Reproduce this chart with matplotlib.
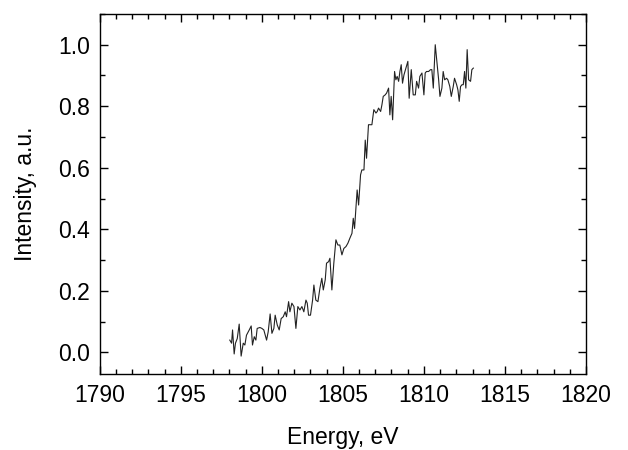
import numpy as np
import matplotlib
matplotlib.use('Agg')
from matplotlib import pyplot as plt
from matplotlib.ticker import MultipleLocator


energy = [1798.02, 1798.13, 1798.19, 1798.29, 1798.37, 1798.48, 1798.60, 1798.72, 1798.85, 1798.95,
          1799.05, 1799.22, 1799.34, 1799.42, 1799.53, 1799.63, 1799.71, 1799.88, 1800.00, 1800.12,
          1800.29, 1800.39, 1800.51, 1800.62, 1800.74, 1800.82, 1800.95, 1801.07, 1801.19, 1801.32,
          1801.44, 1801.52, 1801.65, 1801.73, 1801.85, 1801.98, 1802.10, 1802.22, 1802.35, 1802.47,
          1802.59, 1802.72, 1802.80, 1802.88, 1803.00, 1803.13, 1803.21, 1803.33, 1803.46, 1803.58,
          1803.70, 1803.79, 1803.91, 1803.99, 1804.12, 1804.20, 1804.32, 1804.44, 1804.57, 1804.69,
          1804.81, 1804.94, 1805.06, 1805.19, 1805.31, 1805.43, 1805.56, 1805.64, 1805.72, 1805.80,
          1805.88, 1805.97, 1806.09, 1806.17, 1806.30, 1806.38, 1806.46, 1806.58, 1806.71, 1806.79,
          1806.91, 1807.04, 1807.12, 1807.20, 1807.33, 1807.41, 1807.49, 1807.61, 1807.70, 1807.82,
          1807.90, 1807.98, 1808.07, 1808.19, 1808.27, 1808.35, 1808.44, 1808.52, 1808.60, 1808.68,
          1808.77, 1808.89, 1809.01, 1809.09, 1809.22, 1809.34, 1809.47, 1809.55, 1809.67, 1809.75,
          1809.88, 1810.00, 1810.08, 1810.16, 1810.29, 1810.41, 1810.49, 1810.58, 1810.70, 1810.78,
          1810.91, 1810.99, 1811.11, 1811.19, 1811.28, 1811.40, 1811.48, 1811.60, 1811.69, 1811.81,
          1811.89, 1812.02, 1812.10, 1812.18, 1812.26, 1812.35, 1812.43, 1812.51, 1812.59, 1812.67,
          1812.76, 1812.88, 1812.96, 1813.05]

intensity = [0.040, 0.030, 0.073, -0.005, 0.030, 0.045, 0.092, -0.012, 0.030, 0.024,
             0.056, 0.073, 0.086, 0.024, 0.051, 0.040, 0.078, 0.081, 0.078, 0.073,
             0.040, 0.067, 0.125, 0.062, 0.078, 0.121, 0.089, 0.073, 0.110, 0.116,
             0.132, 0.116, 0.165, 0.132, 0.160, 0.149, 0.078, 0.149, 0.138, 0.149,
             0.132, 0.170, 0.160, 0.121, 0.121, 0.170, 0.219, 0.170, 0.165, 0.208,
             0.241, 0.203, 0.236, 0.290, 0.295, 0.306, 0.203, 0.290, 0.366, 0.349,
             0.349, 0.317, 0.338, 0.344, 0.355, 0.371, 0.387, 0.436, 0.403, 0.463,
             0.528, 0.479, 0.577, 0.593, 0.593, 0.690, 0.631, 0.740, 0.740, 0.740,
             0.789, 0.778, 0.783, 0.794, 0.783, 0.805, 0.832, 0.837, 0.843, 0.859,
             0.772, 0.832, 0.756, 0.913, 0.886, 0.897, 0.881, 0.913, 0.935, 0.875,
             0.902, 0.924, 0.946, 0.826, 0.919, 0.837, 0.837, 0.881, 0.859, 0.897,
             0.908, 0.837, 0.908, 0.913, 0.913, 0.919, 0.919, 0.859, 1.000, 0.957,
             0.886, 0.832, 0.859, 0.913, 0.886, 0.891, 0.886, 0.864, 0.832, 0.864,
             0.891, 0.870, 0.853, 0.816, 0.864, 0.870, 0.870, 0.913, 0.859, 0.984,
             0.886, 0.881, 0.919, 0.924]

plt.rcParams['font.family'] = ['Liberation Sans', 'DejaVu Sans']

fig = plt.figure(figsize=(6.28, 4.5), dpi=100)
ax = fig.add_axes([0.159, 0.169, 0.774, 0.800])

ax.plot(energy, intensity, color='#222222', linewidth=0.8)

ax.set_xlim(1790, 1820)
ax.set_ylim(-0.07, 1.10)
ax.xaxis.set_major_locator(MultipleLocator(5))
ax.xaxis.set_minor_locator(MultipleLocator(1))
ax.yaxis.set_minor_locator(MultipleLocator(0.1))
ax.set_yticks(np.arange(0, 1.01, 0.2))
ax.set_yticklabels(['0.0', '0.2', '0.4', '0.6', '0.8', '1.0'])

ax.tick_params(which='both', direction='in', top=True, right=True, labelsize=16.5, pad=7, width=1)
ax.tick_params(which='major', length=6)
ax.tick_params(which='minor', length=3.5)
for s in ax.spines.values():
    s.set_linewidth(1)

ax.set_xlabel('Energy, eV', fontsize=16.5, labelpad=14)
ax.set_ylabel('Intensity, a.u.', fontsize=16.5, labelpad=15)

fig.savefig('out.png', dpi=100)
